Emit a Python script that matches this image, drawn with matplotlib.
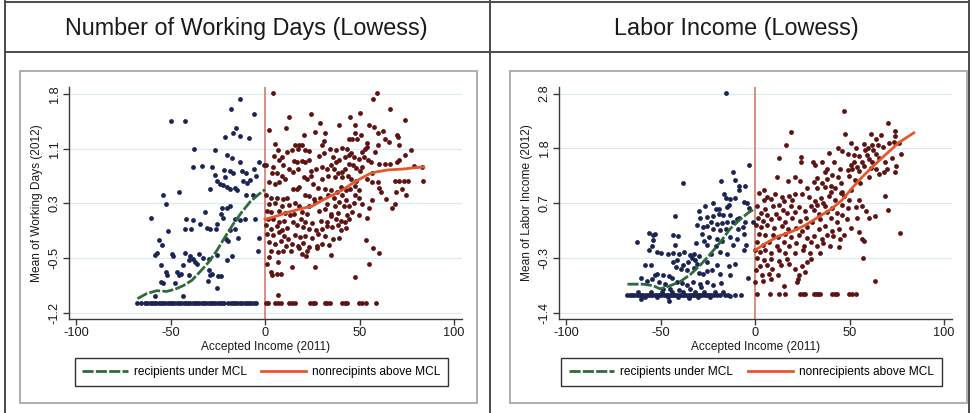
import numpy as np
import matplotlib
matplotlib.use("Agg")
import matplotlib.pyplot as plt
from matplotlib.lines import Line2D
from matplotlib.patches import Rectangle

plt.rcParams['font.family'] = ['Liberation Sans', 'DejaVu Sans']

# ---------------- data: Number of Working Days ----------------
wd_title = "Number of Working Days (Lowess)"
wd_ylabel = "Mean of Working Days (2012)"
wd_yticks = [-1.2, -0.45, 0.3, 1.05, 1.8]
wd_yticklabels = ["-1.2", "-0.5", "0.3", "1.1", "1.8"]
wd_ylim = (-1.289, 1.898)

wd_blue = [(-13.5, 1.74), (-18.1, 1.60), (-5.8, 1.53), (-49.9, 1.43), (-42.5, 1.43), (-15.3, 1.34),
           (-16.7, 1.27), (-21.0, 1.21), (-13.2, 1.22), (-8.4, 1.20), (-37.7, 1.05), (-26.6, 1.03),
           (-20.2, 0.97), (-17.6, 0.92), (-13.5, 0.87), (-3.0, 0.87), (-0.3, 0.83), (-38.1, 0.80),
           (-33.6, 0.81), (-28.2, 0.80), (-21.5, 0.76), (-18.5, 0.75), (-17.2, 0.72), (-12.3, 0.74),
           (-10.0, 0.72), (-5.8, 0.77), (-4.7, 0.68), (-26.4, 0.69), (-21.1, 0.66), (-25.5, 0.60),
           (-23.8, 0.57), (-22.0, 0.55), (-19.9, 0.52), (-18.5, 0.50), (-15.8, 0.51), (-14.6, 0.48),
           (-11.4, 0.61), (-9.3, 0.58), (-7.9, 0.62), (-29.2, 0.49), (-53.8, 0.41), (-45.6, 0.45),
           (-10.0, 0.41), (-6.1, 0.41), (-52.3, 0.29), (-22.7, 0.23), (-20.2, 0.23), (-18.5, 0.26),
           (-23.4, 0.16), (-31.5, 0.18), (-60.1, 0.10), (-41.8, 0.08), (-37.9, 0.07), (-42.1, -0.05),
           (-38.9, -0.05), (-34.4, 0.02), (-30.8, -0.04), (-29.1, -0.05), (-25.2, 0.02), (-22.0, 0.10),
           (-15.7, 0.09), (-13.2, 0.07), (-10.7, 0.09), (-5.1, 0.09), (-26.2, -0.05), (-18.5, -0.07),
           (-15.8, -0.05), (-14.1, -0.18), (-20.6, -0.19), (-19.5, -0.22), (-51.5, -0.08), (-56.2, -0.21),
           (-54.6, -0.27), (-58.0, -0.41), (-57.3, -0.38), (-49.2, -0.39), (-48.8, -0.42), (-42.5, -0.38),
           (-39.6, -0.42), (-37.9, -0.46), (-34.7, -0.39), (-32.6, -0.45), (-29.8, -0.46), (-25.2, -0.41),
           (-20.2, -0.48), (-17.4, -0.42), (-3.5, -0.35), (-3.0, -0.17), (-40.4, -0.48), (-36.1, -0.53),
           (-36.8, -0.50), (-55.2, -0.55), (-43.5, -0.55), (-52.3, -0.65), (-51.6, -0.69), (-46.7, -0.64),
           (-45.6, -0.68), (-44.6, -0.67), (-40.4, -0.69), (-29.8, -0.62), (-29.1, -0.69), (-28.0, -0.67),
           (-24.8, -0.70), (-23.4, -0.70), (-54.8, -0.78), (-53.8, -0.79), (-47.4, -0.80), (-30.1, -0.77),
           (-25.5, -0.86), (-58.0, -0.97), (-43.2, -0.97)]
wd_blue_floor_y = -1.07
wd_blue_floor_x = [-67.5, -65.8, -63.5, -62.3, -61.1, -59.9, -58.7, -57.5, -56.3, -55.1, -53.9, -52.7,
                   -51.5, -50.3, -49.1, -47.9, -46.7, -45.5, -44.3, -43.1, -41.9, -40.7, -39.5, -38.3,
                   -37.1, -35.9, -34.7, -33.5, -32.3, -31.1, -29.9, -28.7, -27.5, -26.3, -25.1, -23.9,
                   -22.7, -21.5, -19.4, -18.2, -17.0, -15.8, -14.6, -13.2, -12.0, -10.8, -9.6, -8.4,
                   -7.2, -6.0, -4.8]

wd_red = [(4.0, 1.82), (59.3, 1.82), (57.3, 1.73), (66.3, 1.59), (24.5, 1.53), (50.4, 1.54), (12.5, 1.49),
          (44.8, 1.48), (74.3, 1.45), (29.1, 1.40), (1.9, 1.31), (11.1, 1.33), (26.6, 1.28), (39.0, 1.37),
          (47.5, 1.37), (54.9, 1.37), (57.5, 1.35), (20.5, 1.24), (31.9, 1.27), (47.8, 1.26), (51.0, 1.24),
          (59.8, 1.27), (62.3, 1.30), (69.9, 1.24), (70.4, 1.21), (31.0, 1.16), (44.3, 1.19), (46.0, 1.18),
          (48.7, 1.19), (63.7, 1.18), (5.1, 1.11), (16.0, 1.10), (18.2, 1.10), (19.6, 1.10), (30.2, 1.10),
          (54.0, 1.13), (59.8, 1.10), (65.4, 1.14), (70.7, 1.10), (6.9, 1.03), (11.5, 1.00), (14.3, 1.03),
          (17.5, 1.04), (21.0, 1.03), (23.5, 1.02), (31.2, 0.99), (34.6, 1.04), (37.6, 1.03), (40.7, 1.06),
          (43.4, 1.05), (45.7, 0.99), (51.3, 1.00), (52.7, 1.05), (54.0, 1.07), (58.4, 1.00), (77.4, 1.03),
          (4.8, 0.95), (7.6, 0.90), (9.0, 0.94), (15.3, 0.88), (16.8, 0.87), (19.6, 0.88), (21.3, 0.87),
          (23.1, 0.90), (28.4, 0.95), (35.8, 0.94), (37.6, 0.87), (39.3, 0.89), (42.2, 0.93), (44.6, 0.96),
          (47.1, 0.93), (49.9, 0.91), (52.4, 0.93), (54.5, 0.90), (55.9, 0.87), (71.1, 0.90), (74.3, 0.97),
          (0.5, 0.83), (4.0, 0.80), (9.7, 0.83), (12.5, 0.77), (14.6, 0.73), (17.5, 0.77), (24.5, 0.75),
          (27.0, 0.77), (30.2, 0.80), (33.0, 0.77), (35.1, 0.83), (36.3, 0.77), (40.7, 0.73), (42.5, 0.77),
          (44.3, 0.84), (46.4, 0.83), (48.2, 0.79), (50.4, 0.74), (51.3, 0.80), (60.2, 0.84), (63.7, 0.84),
          (66.3, 0.84), (69.9, 0.87), (78.7, 0.81), (83.1, 0.80), (3.7, 0.72), (6.3, 0.71), (9.0, 0.68),
          (10.4, 0.64), (20.6, 0.66), (22.2, 0.64), (24.5, 0.68), (30.2, 0.64), (33.3, 0.68), (37.2, 0.66),
          (38.6, 0.71), (40.7, 0.66), (43.9, 0.68), (45.7, 0.64), (48.2, 0.61), (54.2, 0.63), (56.6, 0.72),
          (59.8, 0.59), (68.6, 0.61), (71.1, 0.61), (73.4, 0.61), (75.7, 0.61), (83.8, 0.61), (1.9, 0.59),
          (5.1, 0.57), (7.2, 0.59), (14.6, 0.49), (16.8, 0.49), (17.8, 0.52), (25.2, 0.57), (28.0, 0.51),
          (31.9, 0.50), (35.1, 0.48), (37.9, 0.46), (40.4, 0.52), (42.9, 0.48), (45.2, 0.50), (47.8, 0.54),
          (49.6, 0.48), (56.6, 0.59), (60.5, 0.51), (61.6, 0.46), (69.3, 0.46), (72.5, 0.50), (74.6, 0.41),
          (0.5, 0.41), (3.4, 0.38), (6.3, 0.38), (9.3, 0.36), (11.8, 0.38), (21.0, 0.42), (23.1, 0.40),
          (25.9, 0.36), (29.1, 0.38), (33.3, 0.41), (36.3, 0.38), (40.7, 0.41), (42.9, 0.34), (47.5, 0.41),
          (49.6, 0.37), (56.6, 0.35), (64.0, 0.36), (68.6, 0.29), (1.9, 0.29), (5.5, 0.31), (9.0, 0.27),
          (12.9, 0.28), (16.0, 0.31), (18.2, 0.26), (23.1, 0.27), (26.6, 0.32), (32.8, 0.29), (37.2, 0.27),
          (39.3, 0.32), (41.6, 0.27), (44.6, 0.26), (46.9, 0.31), (51.3, 0.29), (54.9, 0.23), (67.2, 0.23),
          (0.9, 0.20), (3.4, 0.18), (7.2, 0.20), (10.8, 0.17), (13.2, 0.14), (15.3, 0.16), (19.6, 0.18),
          (22.2, 0.16), (28.4, 0.19), (31.6, 0.22), (34.7, 0.16), (38.6, 0.17), (43.6, 0.14), (46.0, 0.18),
          (49.6, 0.14), (54.0, 0.10), (1.6, 0.09), (4.4, 0.08), (7.2, 0.04), (10.1, 0.06), (14.6, 0.04),
          (19.2, 0.09), (21.3, 0.05), (24.9, 0.03), (29.4, 0.06), (33.0, 0.04), (35.1, 0.12), (37.6, 0.09),
          (40.0, 0.06), (42.5, 0.04), (44.6, 0.09), (0.5, 0.00), (3.4, -0.05), (6.2, -0.01), (9.0, -0.07),
          (11.5, -0.04), (16.8, 0.00), (20.3, -0.03), (23.1, -0.05), (27.0, -0.07), (30.2, -0.05),
          (33.0, -0.01), (35.5, -0.03), (38.6, 0.00), (40.0, -0.06), (42.9, -0.04), (1.2, -0.12),
          (4.4, -0.14), (7.6, -0.10), (10.1, -0.15), (12.2, -0.19), (16.0, -0.13), (18.5, -0.16),
          (21.3, -0.15), (24.9, -0.18), (28.0, -0.12), (31.6, -0.15), (35.8, -0.19), (39.3, -0.18),
          (53.4, -0.20), (2.3, -0.23), (5.5, -0.26), (8.6, -0.22), (11.1, -0.28), (14.3, -0.26),
          (17.5, -0.29), (20.3, -0.24), (23.5, -0.30), (27.7, -0.28), (30.2, -0.26), (33.7, -0.27),
          (3.4, -0.35), (6.9, -0.37), (9.3, -0.36), (13.9, -0.35), (17.8, -0.32), (22.1, -0.35),
          (27.3, -0.32), (34.7, -0.41), (57.3, -0.32), (60.2, -0.38), (2.3, -0.44), (19.6, -0.39),
          (21.7, -0.42), (0.9, -0.54), (6.9, -0.51), (14.3, -0.58), (26.6, -0.58), (54.9, -0.54),
          (3.0, -0.64), (3.7, -0.68), (6.2, -0.67), (8.3, -0.67), (47.5, -0.71), (6.9, -0.96)]
wd_red_floor_y = -1.07
wd_red_floor_x = [0.5, 1.6, 5.5, 6.9, 8.3, 12.9, 14.3, 16.0, 24.0, 25.2, 26.6, 31.9, 33.0, 34.4,
                  40.8, 42.2, 43.6, 49.9, 51.3, 53.4, 58.7]

wd_green_x = [-67.5, -62.6, -57.3, -52.0, -47.6, -43.2, -38.8, -34.4, -29.9, -25.5, -21.1, -16.7, -12.3, -7.9, -3.5, 0.0]
wd_green_y = [-1.01, -0.94, -0.90, -0.91, -0.88, -0.83, -0.76, -0.64, -0.51, -0.35, -0.16, 0.02, 0.18, 0.32, 0.42, 0.49]
wd_orange_x = [0.0, 5.5, 12.5, 19.6, 24.9, 30.2, 35.5, 40.7, 46.0, 51.3, 54.9, 58.4, 65.4, 72.5, 79.6, 84.0]
wd_orange_y = [0.08, 0.12, 0.18, 0.23, 0.26, 0.34, 0.41, 0.48, 0.57, 0.65, 0.70, 0.73, 0.76, 0.77, 0.79, 0.80]

# ---------------- data: Labor Income ----------------
li_title = "Labor Income (Lowess)"
li_ylabel = "Mean of Labor Income (2012)"
li_yticks = [-1.4, -0.35, 0.7, 1.75, 2.8]
li_yticklabels = ["-1.4", "-0.3", "0.7", "1.8", "2.8"]
li_ylim = (-1.517, 2.928)

li_blue = [(-15.3, 2.82), (-3.0, 1.44), (-11.4, 1.29), (-10.7, 1.14), (-5.4, 1.03), (-8.3, 1.03), (-8.3, 0.95),
           (-18.1, 1.12), (-37.9, 1.08), (-16.4, 0.88), (-15.3, 0.80), (-13.5, 0.79), (-10.4, 0.80),
           (-26.4, 0.65), (-22.0, 0.71), (-5.8, 0.73), (-4.4, 0.71), (-29.8, 0.55), (-20.9, 0.60),
           (-18.8, 0.60), (-15.0, 0.63), (-13.9, 0.66), (-3.0, 0.61), (-42.1, 0.45), (-29.1, 0.41),
           (-25.2, 0.44), (-22.0, 0.46), (-19.2, 0.50), (-16.7, 0.47), (-13.2, 0.48), (-9.3, 0.39),
           (-8.3, 0.42), (-23.4, 0.34), (-20.2, 0.31), (-17.6, 0.33), (-15.0, 0.34), (-11.4, 0.35),
           (-5.1, 0.34), (-30.5, 0.28), (-27.6, 0.25), (-25.2, 0.27), (-22.0, 0.21), (-18.5, 0.18),
           (-15.3, 0.21), (-9.0, 0.20), (-6.5, 0.25), (-1.2, 0.35), (-55.9, 0.14), (-53.8, 0.09),
           (-52.7, 0.11), (-43.2, 0.09), (-40.7, 0.07), (-28.0, 0.12), (-26.9, -0.03), (-24.5, 0.05),
           (-20.2, 0.02), (-17.4, -0.03), (-13.5, 0.05), (-9.7, 0.02), (-5.8, 0.12), (-4.7, -0.09),
           (-62.2, -0.04), (-54.1, -0.01), (-54.5, -0.11), (-42.5, -0.09), (-31.2, -0.07), (-25.2, -0.09),
           (-20.9, -0.12), (-11.4, -0.09), (-55.9, -0.20), (-52.0, -0.23), (-49.9, -0.25), (-46.0, -0.27),
           (-43.2, -0.25), (-40.4, -0.28), (-37.5, -0.23), (-34.4, -0.30), (-32.2, -0.27), (-29.8, -0.31),
           (-23.1, -0.28), (-18.5, -0.23), (-15.0, -0.27), (-5.8, -0.20), (-58.4, -0.49), (-55.2, -0.49),
           (-43.5, -0.42), (-41.1, -0.39), (-38.2, -0.48), (-35.4, -0.42), (-33.6, -0.35), (-31.5, -0.39),
           (-30.5, -0.46), (-25.5, -0.42), (-20.2, -0.48), (-13.9, -0.50), (-10.7, -0.46), (-41.7, -0.52),
           (-39.3, -0.55), (-36.1, -0.58), (-32.2, -0.54), (-29.4, -0.63), (-27.3, -0.65), (-25.2, -0.60),
           (-22.7, -0.58), (-18.5, -0.65), (-13.2, -0.67), (-3.7, -0.74), (-53.1, -0.67), (-51.6, -0.65),
           (-48.8, -0.67), (-45.6, -0.70), (-43.9, -0.74), (-60.1, -0.74), (-57.3, -0.78), (-54.5, -0.76),
           (-50.6, -0.81), (-47.4, -0.84), (-41.4, -0.80), (-38.6, -0.82), (-36.1, -0.86), (-32.6, -0.81),
           (-29.1, -0.84), (-25.2, -0.81), (-22.0, -0.87), (-17.8, -0.82), (-28.4, -0.90), (-48.5, -0.94),
           (-44.9, -0.94), (-40.4, -0.97), (-34.4, -0.95), (-60.5, -1.14), (-45.6, -1.17), (-35.1, -1.11),
           (-62.0, -1.00), (-58.0, -1.10), (-55.0, -1.00), (-52.0, -1.10), (-49.0, -1.00), (-46.0, -1.10),
           (-44.0, -1.00), (-41.0, -1.10), (-38.0, -1.00), (-35.0, -1.10), (-32.0, -1.00), (-30.0, -1.10),
           (-27.0, -1.00), (-24.0, -1.09), (-21.0, -1.00), (-17.0, -1.00), (-13.0, -1.07)]
li_blue_floor_y = -1.05
li_blue_floor_x = [-67.5, -66.3, -65.1, -63.9, -62.7, -61.5, -60.3, -59.1, -57.9, -56.7, -55.5, -54.3,
                   -53.1, -51.9, -50.7, -49.5, -48.3, -47.1, -45.9, -44.7, -43.5, -42.3, -41.1, -39.9,
                   -38.7, -37.5, -36.3, -35.1, -33.9, -32.7, -31.5, -30.3, -29.1, -27.9, -26.7, -25.5,
                   -24.3, -23.1, -21.9, -20.0, -18.5, -16.0, -14.5, -10.5, -7.5]

li_red = [(47.1, 2.46), (70.4, 2.23), (18.9, 2.07), (47.5, 2.02), (61.6, 2.02), (66.5, 2.00), (74.3, 2.08),
          (74.3, 1.99), (64.0, 1.93), (70.7, 1.86), (73.6, 1.87), (76.0, 1.86), (16.4, 1.81), (50.6, 1.86),
          (57.5, 1.84), (61.9, 1.81), (65.1, 1.82), (67.9, 1.78), (43.9, 1.75), (46.0, 1.70), (53.5, 1.75),
          (58.0, 1.72), (59.8, 1.75), (62.6, 1.73), (39.0, 1.67), (49.2, 1.65), (52.2, 1.63), (55.2, 1.61),
          (59.1, 1.63), (64.0, 1.65), (77.4, 1.65), (12.5, 1.56), (24.2, 1.58), (24.5, 1.50), (30.9, 1.49),
          (35.5, 1.49), (41.8, 1.50), (52.4, 1.49), (56.6, 1.49), (60.2, 1.54), (61.9, 1.49), (65.4, 1.56),
          (68.6, 1.50), (72.5, 1.56), (74.6, 1.41), (31.9, 1.43), (50.6, 1.43), (54.2, 1.40), (57.7, 1.41),
          (61.2, 1.38), (37.9, 1.35), (45.0, 1.35), (49.2, 1.33), (51.3, 1.35), (54.9, 1.31), (64.0, 1.35),
          (69.7, 1.35), (36.9, 1.29), (40.7, 1.24), (65.4, 1.27), (68.3, 1.29), (73.9, 1.29), (11.5, 1.20),
          (21.3, 1.20), (33.0, 1.19), (38.3, 1.16), (43.9, 1.20), (49.6, 1.22), (53.1, 1.14), (60.5, 1.20),
          (17.5, 1.12), (23.8, 1.12), (31.2, 1.10), (35.5, 1.08), (40.0, 1.04), (45.3, 1.08), (55.6, 1.08),
          (27.7, 0.99), (32.6, 0.99), (36.9, 1.01), (42.5, 0.99), (46.0, 0.92), (51.0, 0.95), (4.8, 0.95),
          (1.9, 0.90), (10.4, 0.88), (21.0, 0.88), (24.9, 0.87), (40.0, 0.92), (45.3, 0.90), (6.5, 0.82),
          (14.3, 0.82), (18.2, 0.84), (28.4, 0.82), (35.1, 0.80), (39.3, 0.84), (47.1, 0.84), (68.6, 0.84),
          (4.8, 0.76), (8.6, 0.78), (15.3, 0.74), (19.6, 0.76), (31.6, 0.74), (35.8, 0.71), (42.5, 0.76),
          (49.6, 0.76), (54.9, 0.76), (0.9, 0.65), (5.5, 0.60), (9.7, 0.65), (12.5, 0.67), (19.2, 0.65),
          (23.1, 0.63), (29.5, 0.65), (33.0, 0.67), (37.2, 0.65), (40.7, 0.61), (46.0, 0.67), (49.2, 0.61),
          (53.5, 0.63), (56.6, 0.65), (3.4, 0.52), (6.5, 0.47), (11.1, 0.50), (14.6, 0.57), (17.1, 0.52),
          (21.3, 0.53), (26.3, 0.55), (31.2, 0.57), (33.7, 0.50), (38.3, 0.53), (43.6, 0.52), (46.0, 0.48),
          (58.7, 0.55), (63.7, 0.46), (70.4, 0.57), (1.6, 0.42), (4.4, 0.37), (8.6, 0.39), (12.5, 0.42),
          (16.0, 0.35), (19.6, 0.41), (23.8, 0.37), (27.0, 0.41), (30.2, 0.35), (34.4, 0.39), (40.0, 0.41),
          (43.6, 0.35), (48.5, 0.39), (54.2, 0.41), (60.2, 0.41), (0.5, 0.29), (3.4, 0.25), (6.2, 0.28),
          (10.0, 0.23), (14.3, 0.27), (17.5, 0.21), (21.7, 0.23), (24.9, 0.16), (27.7, 0.25), (33.7, 0.21),
          (36.9, 0.27), (40.7, 0.16), (44.6, 0.21), (50.6, 0.23), (55.2, 0.15), (76.7, 0.14), (2.3, 0.12),
          (5.5, 0.09), (9.3, 0.10), (12.2, 0.06), (16.0, 0.12), (19.2, 0.06), (23.1, 0.10), (27.3, 0.04),
          (31.2, 0.07), (35.5, 0.02), (38.3, 0.10), (41.5, 0.07), (45.0, 0.02), (47.1, 0.10), (56.6, 0.02),
          (57.7, -0.03), (1.2, -0.04), (4.0, -0.09), (7.6, -0.04), (11.5, -0.11), (15.3, -0.05),
          (18.2, -0.12), (21.7, -0.07), (25.9, -0.12), (29.5, -0.05), (33.0, -0.11), (36.2, -0.07),
          (39.7, -0.12), (44.6, -0.13), (0.2, -0.20), (2.6, -0.23), (5.5, -0.20), (8.6, -0.25),
          (12.5, -0.20), (16.0, -0.26), (21.0, -0.25), (25.2, -0.20), (29.1, -0.26), (34.4, -0.26),
          (57.3, -0.35), (0.9, -0.35), (4.8, -0.39), (8.3, -0.36), (12.9, -0.41), (16.8, -0.36),
          (18.2, -0.46), (24.9, -0.50), (27.3, -0.42), (29.5, -0.36), (2.6, -0.50), (6.5, -0.49),
          (9.0, -0.55), (13.6, -0.48), (21.3, -0.56), (0.5, -0.58), (3.7, -0.67), (7.2, -0.65),
          (12.2, -0.68), (23.1, -0.67), (26.6, -0.62), (63.7, -0.78), (0.2, -0.81), (4.0, -0.78),
          (8.3, -0.76), (15.3, -0.88), (22.4, -0.81), (22.8, -0.76)]
li_red_floor_y = -1.04
li_red_floor_x = [1.2, 7.9, 12.5, 16.0, 24.0, 25.2, 26.3, 31.2, 32.3, 33.3, 34.4, 40.7, 42.2, 43.6,
                  49.9, 51.3, 53.4]

li_green_x = [-67.5, -59.1, -53.8, -50.2, -44.9, -39.6, -34.4, -29.1, -23.8, -18.5, -13.2, -7.9, -3.5, 0.0]
li_green_y = [-0.85, -0.85, -0.88, -0.94, -0.88, -0.80, -0.67, -0.49, -0.28, -0.05, 0.21, 0.39, 0.52, 0.60]
li_orange_x = [0.0, 5.5, 12.5, 19.6, 26.6, 33.7, 40.7, 46.0, 51.3, 56.6, 61.9, 69.0, 76.0, 84.0]
li_orange_y = [-0.20, -0.07, 0.07, 0.16, 0.28, 0.44, 0.60, 0.76, 0.99, 1.20, 1.39, 1.63, 1.86, 2.05]

x_ticks = [-100, -50, 0, 50, 100]
x_label = "Accepted Income (2011)"
legend_labels = [("recipients under MCL", "nonrecipints above MCL"),
                 ("recipients under MCL", "nonrecipients above MCL")]

# ---------------- styles ----------------
BLUE = "#1c2453"
RED = "#5e1212"
GREEN = "#2f6a3a"
ORANGE = "#e5582c"
VLINE = "#c8735f"
GRID = "#dbebf1"
AXC = "#3a3a3a"
DOT = 12

W, H = 973, 413
fig = plt.figure(figsize=(W / 100, H / 100), dpi=100)


def fx(px):
    return px / W


def fy(py):
    return 1 - py / H


# outer table frame
for x in (5, 490, 969):
    fig.add_artist(Line2D([fx(x), fx(x)], [fy(1), fy(413)], color="#4a4a4a", lw=1.4))
for y in (2, 52):
    fig.add_artist(Line2D([fx(5), fx(969)], [fy(y), fy(y)], color="#4a4a4a", lw=1.4))


def panel(off, title, ylabel, yticks, ylabels, ylim, blue, bfx, bfy, red, rfx, rfy,
          gx, gy, ox, oy, labels):
    # grey graph region box
    fig.add_artist(Rectangle((fx(20 + off), fy(403)), fx(457), (403 - 71) / H, fill=False,
                             edgecolor="#a8a8a8", lw=1.3))
    fig.text(fx(246 + off), fy(28), title, ha="center", va="center", fontsize=16.8, color="#1a1a1a")

    ax = fig.add_axes([fx(69 + off), fy(319), fx(393), 232 / H])
    ax.set_xlim(-103.7, 104.2)
    ax.set_ylim(*ylim)
    for t in yticks:
        ax.axhline(t, color=GRID, lw=0.9, zorder=0)
    ax.axvline(0, color=VLINE, lw=1.1, zorder=1)

    b = np.array(blue)
    r = np.array(red)
    ax.scatter(b[:, 0], b[:, 1], s=DOT, color=BLUE, linewidths=0, zorder=2)
    ax.scatter(bfx, [bfy] * len(bfx), s=DOT, color=BLUE, linewidths=0, zorder=2)
    ax.scatter(r[:, 0], r[:, 1], s=DOT, color=RED, linewidths=0, zorder=2)
    ax.scatter(rfx, [rfy] * len(rfx), s=DOT, color=RED, linewidths=0, zorder=2)
    g, = ax.plot(gx, gy, color=GREEN, lw=2.0, dashes=(4, 0.8), zorder=3)
    o, = ax.plot(ox, oy, color=ORANGE, lw=2.0, zorder=3)

    for s in ("top", "right"):
        ax.spines[s].set_visible(False)
    for s in ("left", "bottom"):
        ax.spines[s].set_color(AXC)
        ax.spines[s].set_linewidth(1.0)
    ax.set_xticks(x_ticks)
    ax.set_xticklabels([str(v) for v in x_ticks])
    ax.set_yticks(yticks)
    ax.set_yticklabels(ylabels, rotation=90, va="center")
    ax.tick_params(colors=AXC, labelcolor="#1a1a1a", labelsize=9.2, length=4, width=1.0, pad=2)
    ax.set_xlabel(x_label, fontsize=8.6, labelpad=1, color="#1a1a1a")
    ax.set_ylabel(ylabel, fontsize=8.6, labelpad=4, color="#1a1a1a")

    leg = ax.legend([g, o], list(labels), loc="center", ncol=2,
                    bbox_to_anchor=(fx(261.5 + off), fy(372)), bbox_transform=fig.transFigure,
                    fancybox=False, edgecolor="#333333", fontsize=8.6, handlelength=3.8,
                    columnspacing=1.2, handletextpad=0.5, borderpad=0.65, borderaxespad=0,
                    framealpha=1)
    leg.get_frame().set_linewidth(1.0)


panel(0, wd_title, wd_ylabel, wd_yticks, wd_yticklabels, wd_ylim, wd_blue, wd_blue_floor_x,
      wd_blue_floor_y, wd_red, wd_red_floor_x, wd_red_floor_y, wd_green_x, wd_green_y,
      wd_orange_x, wd_orange_y, legend_labels[0])
panel(490, li_title, li_ylabel, li_yticks, li_yticklabels, li_ylim, li_blue, li_blue_floor_x,
      li_blue_floor_y, li_red, li_red_floor_x, li_red_floor_y, li_green_x, li_green_y,
      li_orange_x, li_orange_y, legend_labels[1])

fig.savefig("out.png", dpi=100)
